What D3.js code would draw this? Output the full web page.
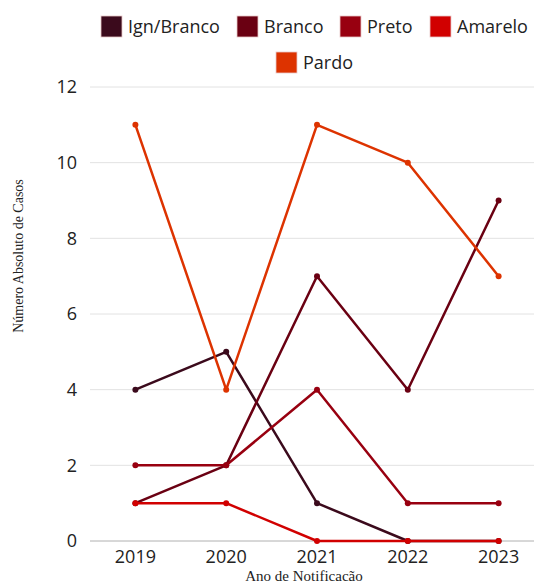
<!DOCTYPE html>
<html>
<head>
<meta charset="utf-8">
<script src="https://cdn.jsdelivr.net/npm/d3@7"></script>
<style>
  html, body { margin: 0; padding: 0; background: #fff; }
</style>
</head>
<body>
<svg id="chart" width="534" height="583"></svg>
<script>
const years = ["2019", "2020", "2021", "2022", "2023"];
const seriesNames = ["Ign/Branco", "Branco", "Preto", "Amarelo", "Pardo"];
const ignBranco = [4, 5, 1, 0, 0];
const branco = [1, 2, 7, 4, 9];
const preto = [2, 2, 4, 1, 1];
const amarelo = [1, 1, 0, 0, 0];
const pardo = [11, 4, 11, 10, 7];
const yTicks = [0, 2, 4, 6, 8, 10, 12];
const colors = ["#3b0a1c", "#6a0012", "#980010", "#d10000", "#dd3300"];

const seriesValues = [ignBranco, branco, preto, amarelo, pardo];
const series = seriesNames.map((name, i) => ({
  name,
  color: colors[i],
  values: years.map((y, j) => ({ year: y, value: seriesValues[i][j] }))
}));

const svg = d3.select("#chart");
const plotLeft = 90, plotRight = 544, plotTop = 87, plotBottom = 541;

const x = d3.scalePoint().domain(years).range([plotLeft, plotRight]).padding(0.5);
const y = d3.scaleLinear().domain([0, 12]).range([plotBottom, plotTop]);

const tickFont = "'Open Sans', sans-serif";
const titleFont = "'Liberation Serif', 'Times New Roman', serif";

// gridlines
svg.append("g")
  .selectAll("line")
  .data(yTicks.filter(d => d !== 0))
  .join("line")
  .attr("x1", plotLeft).attr("x2", plotRight)
  .attr("y1", d => y(d)).attr("y2", d => y(d))
  .attr("stroke", "#e2e2e2")
  .attr("stroke-width", 1);

// baseline
svg.append("line")
  .attr("x1", plotLeft).attr("x2", plotRight)
  .attr("y1", y(0)).attr("y2", y(0))
  .attr("stroke", "#b0b0b0")
  .attr("stroke-width", 1);

// y tick labels
svg.append("g")
  .selectAll("text")
  .data(yTicks)
  .join("text")
  .attr("x", 77)
  .attr("y", d => y(d))
  .attr("dy", "0.36em")
  .attr("text-anchor", "end")
  .attr("font-family", tickFont)
  .attr("font-size", "18px")
  .attr("fill", "#222")
  .text(d => d);

// x tick labels
svg.append("g")
  .selectAll("text")
  .data(years)
  .join("text")
  .attr("x", d => x(d))
  .attr("y", 563)
  .attr("text-anchor", "middle")
  .attr("font-family", tickFont)
  .attr("font-size", "18px")
  .attr("fill", "#222")
  .text(d => d);

// axis titles
svg.append("text")
  .attr("transform", "translate(23, 256) rotate(-90)")
  .attr("text-anchor", "middle")
  .attr("font-family", titleFont)
  .attr("font-size", "14px")
  .attr("fill", "#222")
  .text("Número Absoluto de Casos");

svg.append("text")
  .attr("x", 304)
  .attr("y", 581)
  .attr("text-anchor", "middle")
  .attr("font-family", titleFont)
  .attr("font-size", "15px")
  .attr("fill", "#222")
  .text("Ano de Notificacão");

// lines + points
const line = d3.line().x(d => x(d.year)).y(d => y(d.value));

const groups = svg.append("g")
  .selectAll("g")
  .data(series)
  .join("g");

groups.append("path")
  .attr("d", d => line(d.values))
  .attr("fill", "none")
  .attr("stroke", d => d.color)
  .attr("stroke-width", 2.5)
  .attr("stroke-linejoin", "round");

groups.each(function (s) {
  d3.select(this)
    .selectAll("circle")
    .data(s.values)
    .join("circle")
    .attr("cx", d => x(d.year))
    .attr("cy", d => y(d.value))
    .attr("r", 3)
    .attr("fill", s.color);
});

// legend
const legendItems = [
  { i: 0, x: 101, y: 16 },
  { i: 1, x: 237, y: 16 },
  { i: 2, x: 340, y: 16 },
  { i: 3, x: 430, y: 16 },
  { i: 4, x: 276, y: 52 }
];

const legend = svg.append("g")
  .selectAll("g")
  .data(legendItems)
  .join("g")
  .attr("transform", d => `translate(${d.x}, ${d.y})`);

legend.append("rect")
  .attr("width", 21)
  .attr("height", 21)
  .attr("fill", d => colors[d.i])
  .attr("stroke", "#e8c8c8")
  .attr("stroke-width", 0.8);

legend.append("text")
  .attr("x", 27)
  .attr("y", 10.5)
  .attr("dy", "0.36em")
  .attr("font-family", tickFont)
  .attr("font-size", "18px")
  .attr("fill", "#222")
  .text(d => seriesNames[d.i]);
</script>
</body>
</html>
